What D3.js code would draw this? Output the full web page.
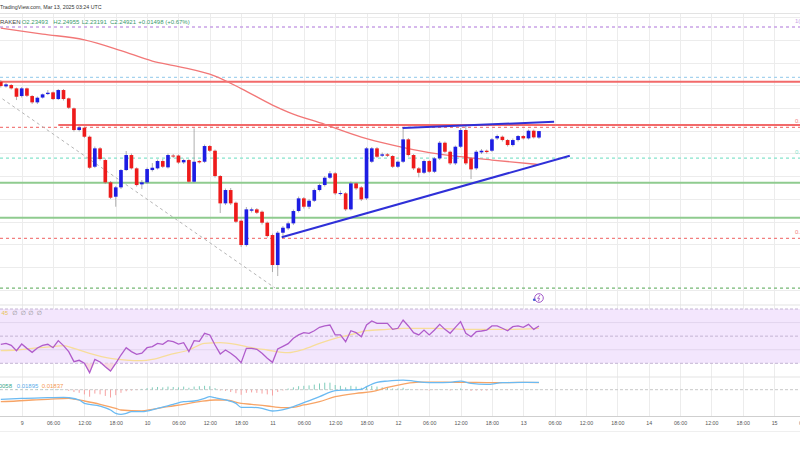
<!DOCTYPE html>
<html>
<head>
<meta charset="utf-8">
<script src="https://cdn.jsdelivr.net/npm/d3@7"></script>
<style>
  html, body { margin: 0; padding: 0; background: #fff; }
  svg { display: block; font-family: "Liberation Sans", Arial, sans-serif; }
</style>
</head>
<body>
<div id="chart"></div>
<script>
// XRP/USD 1h, Kraken. hour 0 = 9 Mar 2025 00:00 UTC, first candle at hour -4
var firstHour = -4;
var opens = [2.3578,2.3476,2.3505,2.3432,2.3263,2.3432,2.3263,2.3124,2.3230,2.3307,2.3344,2.3197,2.3395,2.3212,
  2.2992,2.2515,2.2566,2.2368,2.1708,2.2112,2.1855,2.1364,2.1048,2.1254,2.1635,2.1965,2.1672,2.1320,2.1364,2.1635,
  2.1672,2.1833,2.1694,2.1954,2.1954,2.1804,2.1855,2.1378,2.1833,2.1818,2.2163,2.2060,2.1503,2.0902,2.1195,2.0916,
  2.0520,1.9985,2.0740,2.0770,2.0718,2.0476,2.0205,1.9545,2.0256,2.0352,2.0462,2.0733,2.1012,2.0828,2.0960,2.1195,
  2.1305,2.1466,2.1562,2.1114,2.1122,2.0770,2.1342,2.1254,2.1012,2.1818,2.2112,2.1950,2.1980,2.1943,2.1708,2.1818,
  2.2310,2.1965,2.1672,2.1576,2.1833,2.1598,2.1892,2.2236,2.2038,2.1782,2.2148,2.2515,2.1892,2.1672,2.2024,2.2060,
  2.2060,2.2332,2.2368,2.2295,2.2185,2.2295,2.2383,2.2332,2.2500,2.23493];
var highs = [2.3615,2.3549,2.3527,2.3450,2.3461,2.3450,2.3285,2.3252,2.3318,2.3395,2.3362,2.3417,2.3417,2.3230,
  2.3010,2.2603,2.2592,2.2394,2.2152,2.2141,2.1888,2.1393,2.1283,2.1657,2.2053,2.1998,2.1695,2.1415,2.1690,2.1789,
  2.1866,2.1877,2.1998,2.1987,2.1976,2.1888,2.1877,2.2552,2.1855,2.2196,2.2185,2.2086,2.1525,2.1228,2.1239,2.0942,
  2.0546,2.0821,2.0810,2.0799,2.0744,2.0502,2.0238,2.0293,2.0403,2.0502,2.0766,2.1052,2.1041,2.0997,2.1228,2.1338,
  2.1503,2.1613,2.1591,2.1184,2.1151,2.1382,2.1371,2.1283,2.2141,2.2141,2.2141,2.2020,2.2009,2.1965,2.1844,2.2552,
  2.2339,2.1987,2.1701,2.1866,2.1855,2.1921,2.2273,2.2262,2.2064,2.2174,2.2559,2.2603,2.1921,2.2075,2.2097,2.2086,
  2.2339,2.2416,2.2394,2.2317,2.2328,2.2405,2.2405,2.2526,2.2526,2.24955];
var lows = [2.3450,2.3450,2.3406,2.3175,2.3230,2.3241,2.3087,2.3087,2.3208,2.3285,2.3175,2.3175,2.3164,2.2977,
  2.2482,2.2482,2.2339,2.1657,2.1679,2.1844,2.1327,2.0997,2.0828,2.1217,2.1613,2.1646,2.1272,2.1217,2.1327,2.1602,
  2.1646,2.1679,2.1668,2.1899,2.1767,2.1767,2.1349,2.1349,2.1778,2.1789,2.2031,2.1470,2.0689,2.0865,2.0865,2.0469,
  1.9941,1.9952,2.0700,2.0667,2.0436,2.0150,1.9391,1.9303,2.0183,2.0315,2.0425,2.0700,2.0788,2.0777,2.0931,2.1162,
  2.1272,2.1437,2.1085,2.1074,2.0733,2.0744,2.1195,2.0953,2.0975,2.1789,2.1899,2.1921,2.1921,2.1679,2.1679,2.1789,
  2.1932,2.1635,2.1474,2.1547,2.1569,2.1569,2.1855,2.2009,2.1745,2.1745,2.2119,2.1745,2.1437,2.1635,2.1987,2.1998,
  2.2031,2.2295,2.2262,2.2152,2.2152,2.2262,2.2306,2.2306,2.2328,2.23191];
var closes = [2.3483,2.3520,2.3432,2.3248,2.3432,2.3270,2.3124,2.3226,2.3300,2.3336,2.3197,2.3395,2.3197,2.3006,
  2.2515,2.2574,2.2368,2.1686,2.2112,2.1877,2.1364,2.1026,2.1254,2.1635,2.1965,2.1672,2.1305,2.1364,2.1657,2.1686,
  2.1833,2.1708,2.1965,2.1932,2.1800,2.1855,2.1378,2.1818,2.1804,2.2163,2.2060,2.1503,2.0902,2.1195,2.0902,2.0498,
  1.9985,2.0770,2.0770,2.0696,2.0476,2.0183,1.9545,2.0256,2.0366,2.0462,2.0733,2.1012,2.0828,2.0960,2.1195,2.1305,
  2.1466,2.1562,2.1122,2.1129,2.0770,2.1342,2.1232,2.0990,2.2112,2.2112,2.1928,2.1980,2.1950,2.1708,2.1818,2.2310,
  2.1965,2.1672,2.1576,2.1833,2.1598,2.1892,2.2236,2.2038,2.1782,2.2148,2.2515,2.1782,2.1650,2.2038,2.2060,2.2031,
  2.2310,2.2383,2.2295,2.2185,2.2295,2.2383,2.2332,2.2500,2.2354,2.24921];

// moving average on price (sampled)
var maHours = [-4,4,12,19,25,30,37,42,48,51,58,65,71,78,84,90,99];
var maVals = [2.4757,2.4627,2.4499,2.4264,2.4033,2.3912,2.3703,2.3428,2.3065,2.2911,2.2640,2.2361,2.2185,2.2020,2.1928,2.1855,2.1756];

// horizontal drawings
var resLevels = [2.3578, 2.2625];
var resFrom = [-6, 7];
var supLevels = [2.1356, 2.0586];
var fibLabels = ["1(2.4781)", "0.786(2.3674)", "0.618(2.2574)", "0.5(2.1899)", "0.236(2.0132)", "0(1.9039)"];
var fibLevels = [2.4781, 2.3674, 2.2574, 2.1899, 2.0132, 1.9039];
var fibColors = ["#c9a3e6", "#a6d3ee", "#f27f7f", "#86e3cb", "#f27f7f", "#74b874"];
var fibShowLabel = [true, false, true, true, true, false];
var fibDiag = [[-23.5, 2.4781], [48.5, 1.9039]];
var lowerTrend = [[49.76, 2.0155], [104.9, 2.1950]];
var upperTrend = [[72.9, 2.2559], [101.9, 2.2698]];

// RSI per candle
var rsi = [44.0,44.7,43.2,39.3,44.2,41.0,38.1,41.3,43.2,44.0,41.5,46.7,43.0,38.6,
  31.2,32.2,30.0,23.1,32.9,31.0,27.5,24.3,30.0,36.1,41.5,38.6,36.6,37.4,41.5,42.3,
  44.7,44.0,46.7,45.9,44.2,45.2,38.6,46.7,46.2,52.1,50.9,43.5,36.9,39.8,37.4,34.4,
  30.5,41.0,41.0,40.3,37.4,33.7,30.7,40.5,42.5,44.5,48.4,50.9,52.6,52.1,54.0,56.5,
  57.5,58.2,50.9,50.9,45.9,54.0,52.6,49.6,58.2,61.2,59.4,59.4,59.4,55.0,55.8,61.9,
  57.5,52.6,50.9,54.5,50.9,54.5,58.7,55.0,52.1,56.5,60.7,52.1,49.6,53.3,53.8,54.5,
  57.5,57.5,55.8,54.0,57.0,57.5,56.5,58.7,55.0,57.5];
var rsiMaHours = [-4,-1,2,6,8,10,13,17,20,23,25,28,32,35,38,41,44,47,51,54,57,60,64,66,70,73,79,86,92,99];
var rsiMaVals = [39.3,39.8,41.0,42.3,43.0,41.0,37.4,33.7,32.4,32.0,32.9,36.1,39.8,44.7,45.2,44.0,41.5,39.8,37.8,40.3,44.7,48.4,52.1,54.0,55.0,55.8,55.8,55.0,55.0,55.8];

// MACD
var macdHours = [-4,0,5,8,9,11,12,15,17,18,19,20,21,23,26,29,31,33,35,36,37,39,41,42,44,46,48,49,51,54,57,60,62,65,66,68,70,73,75,77,79,82,84,86,89,92,96,99];
var macdVals = [-0.0247,-0.0222,-0.0205,-0.0196,-0.0205,-0.0264,-0.0350,-0.0418,-0.0520,-0.0606,-0.0631,-0.0606,-0.0563,-0.0563,-0.0478,-0.0375,-0.0307,-0.0290,-0.0222,-0.0179,-0.0205,-0.0264,-0.0350,-0.0452,-0.0452,-0.0478,-0.0546,-0.0537,-0.0478,-0.0333,-0.0179,-0.0026,-0.0009,0.0009,0.0077,0.0188,0.0222,0.0247,0.0222,0.0188,0.0179,0.0188,0.0222,0.0162,0.0136,0.0179,0.0188,0.01895];
var sigHours = [-4,-1,2,5,9,10,12,15,18,19,23,25,28,31,34,37,39,42,44,47,50,52,54,57,60,64,67,70,73,76,79,83,87,91,95,99];
var sigVals = [-0.0307,-0.0290,-0.0264,-0.0247,-0.0222,-0.0239,-0.0290,-0.0375,-0.0478,-0.0520,-0.0546,-0.0503,-0.0435,-0.0375,-0.0307,-0.0264,-0.0264,-0.0350,-0.0375,-0.0418,-0.0461,-0.0452,-0.0392,-0.0307,-0.0179,-0.0094,-0.0051,0.0060,0.0145,0.0196,0.0196,0.0188,0.0188,0.0179,0.0188,0.01837];
var hist = [0.001,0.001,0.001,0.0015,0.001,0.001,0.001,0.0015,0.001,0.001,0.001,0.0015,0.0005,
  -0.003,-0.006,-0.008,-0.012,-0.018,-0.010,-0.012,-0.016,-0.020,-0.014,-0.008,-0.004,-0.002,-0.001,
  0.002,0.004,0.006,0.007,0.006,0.008,0.007,0.006,0.008,0.005,0.008,0.009,0.010,0.009,0.004,-0.002,
  -0.003,-0.006,-0.009,-0.013,-0.008,-0.007,-0.008,-0.010,-0.012,-0.015,-0.006,-0.002,
  0.003,0.006,0.009,0.010,0.011,0.013,0.016,0.018,0.018,0.012,0.010,0.006,0.010,0.008,0.005,0.009,0.010,0.008,0.006,0.005,0.003,0.003,0.005,0.002,
  0.000,-0.001,-0.001,-0.002,-0.001,0.001,0.000,-0.002,0.001,0.003,-0.001,-0.003,-0.002,-0.002,-0.002,0.000,0.001,0.000,-0.001,0.000,0.000,0.000,0.001,0.000,0.0006];

var base = Date.UTC(2025, 2, 9, 0);
function hr(h) { return new Date(base + h * 3600000); }

var W = 800, H = 450;
var svg = d3.select('#chart').append('svg')
    .attr('width', W)
    .attr('height', H);

var x = d3.scaleUtc().domain([hr(-4.153), hr(148.96)]).range([0, W]);
var y = d3.scaleLinear().domain([1.9, 2.5]).range([289.8, 17.1]);
var yR = d3.scaleLinear().domain([30, 70]).range([363.3, 309]);
var yM = d3.scaleLinear().domain([-0.06, 0.02]).range([413.1, 381.9]);

var defs = svg.append('defs');
defs.append('clipPath').attr('id', 'clipMain').append('rect')
    .attr('x', 0).attr('y', 13.5).attr('width', W).attr('height', 290.5);
defs.append('clipPath').attr('id', 'clipRsi').append('rect')
    .attr('x', 0).attr('y', 305.5).attr('width', W).attr('height', 71);
defs.append('clipPath').attr('id', 'clipMacd').append('rect')
    .attr('x', 0).attr('y', 377.5).attr('width', W).attr('height', 39);

var candles = opens.map(function(o, i) {
    return { t: hr(firstHour + i), o: o, h: highs[i], l: lows[i], c: closes[i] };
});

//grid
var ticks6h = d3.utcHour.every(6).range(hr(-12), hr(156));
svg.append('g').selectAll('line').data(ticks6h).enter().append('line')
    .attr('x1', function(d) { return Math.round(x(d)) + 0.5; })
    .attr('x2', function(d) { return Math.round(x(d)) + 0.5; })
    .attr('y1', 13.5).attr('y2', 416)
    .style('stroke', '#ececec');

svg.append('g').selectAll('line').data(y.ticks(12)).enter().append('line')
    .attr('x1', 0).attr('x2', W)
    .attr('y1', function(d) { return Math.round(y(d)) + 0.5; })
    .attr('y2', function(d) { return Math.round(y(d)) + 0.5; })
    .style('stroke', '#ececec');

// pane borders
[13.5, 305, 377].forEach(function(v) {
    svg.append('line').attr('x1', 0).attr('x2', W).attr('y1', v).attr('y2', v)
        .style('stroke', '#e3e3e3');
});
svg.append('line').attr('x1', 0).attr('x2', W).attr('y1', 416.5).attr('y2', 416.5)
    .style('stroke', '#cfcfcf');
svg.append('line').attr('x1', 0).attr('x2', W).attr('y1', 431.5).attr('y2', 431.5)
    .style('stroke', '#efefef');

var main = svg.append('g').attr('clip-path', 'url(#clipMain)');

// fibonacci levels
fibLevels.forEach(function(p, i) {
    main.append('line')
        .attr('x1', 0).attr('x2', W)
        .attr('y1', y(p)).attr('y2', y(p))
        .style('stroke', fibColors[i])
        .style('stroke-width', i === 0 ? 1.5 : 1.2)
        .style('stroke-dasharray', '3,3');
    if (fibShowLabel[i]) {
        main.append('text')
            .attr('x', 795).attr('y', y(p) - 4)
            .style('font-size', '6px')
            .style('fill', fibColors[i])
            .text(fibLabels[i]);
    }
});
main.append('line')
    .attr('x1', x(hr(fibDiag[0][0]))).attr('y1', y(fibDiag[0][1]))
    .attr('x2', x(hr(fibDiag[1][0]))).attr('y2', y(fibDiag[1][1]))
    .style('stroke', '#b5b5b5')
    .style('stroke-width', 1)
    .style('stroke-dasharray', '3,3');

// resistance and support
resLevels.forEach(function(p, i) {
    main.append('line')
        .attr('x1', x(hr(resFrom[i]))).attr('x2', W)
        .attr('y1', y(p)).attr('y2', y(p))
        .style('stroke', '#f26a6a')
        .style('stroke-width', 2);
});
supLevels.forEach(function(p) {
    main.append('line')
        .attr('x1', 0).attr('x2', W)
        .attr('y1', y(p)).attr('y2', y(p))
        .style('stroke', '#8fcb8f')
        .style('stroke-width', 2);
});

// price MA
var maPts = maHours.map(function(h, i) { return [hr(h), maVals[i]]; });
main.append('path')
    .datum(maPts)
    .attr('d', d3.line().curve(d3.curveMonotoneX)
        .x(function(d) { return x(d[0]); })
        .y(function(d) { return y(d[1]); }))
    .style('fill', 'none')
    .style('stroke', '#f27777')
    .style('stroke-width', 1.3);

// candles
var bodyW = (x(hr(1)) - x(hr(0))) * 0.7;
var cg = main.append('g');
cg.selectAll('line.wick').data(candles).enter().append('line')
    .attr('class', 'wick')
    .attr('x1', function(d) { return x(d.t); })
    .attr('x2', function(d) { return x(d.t); })
    .attr('y1', function(d) { return y(d.h); })
    .attr('y2', function(d) { return y(d.l); })
    .style('stroke', '#9a9a9a')
    .style('stroke-width', 0.8);
cg.selectAll('rect').data(candles).enter().append('rect')
    .attr('x', function(d) { return x(d.t) - bodyW / 2; })
    .attr('width', bodyW)
    .attr('y', function(d) { return y(Math.max(d.o, d.c)); })
    .attr('height', function(d) { return Math.max(1, Math.abs(y(d.o) - y(d.c))); })
    .style('fill', function(d) { return d.c >= d.o ? '#1d1de3' : '#ee1b1b'; });

// trend lines
[lowerTrend, upperTrend].forEach(function(tl) {
    main.append('line')
        .attr('x1', x(hr(tl[0][0]))).attr('y1', y(tl[0][1]))
        .attr('x2', x(hr(tl[1][0]))).attr('y2', y(tl[1][1]))
        .style('stroke', '#2f30d8')
        .style('stroke-width', 2);
});

// header
svg.append('text')
    .attr('x', 0).attr('y', 9)
    .style('font-size', '5.3px')
    .style('fill', '#333')
    .text('TradingView.com, Mar 13, 2025 03:24 UTC');
var legendX = [-4, 21.7, 53.3, 81.7, 110, 138.3];
var legendT = ['KRAKEN', 'O2.23493', 'H2.24955', 'L2.23191', 'C2.24921', '+0.01498 (+0.67%)'];
legendT.forEach(function(t, i) {
    svg.append('text')
        .attr('x', legendX[i]).attr('y', 24.3)
        .style('font-size', '6px')
        .style('fill', i === 0 ? '#444' : '#3a9a6c')
        .text(t);
});

// RSI pane
var rsiG = svg.append('g').attr('clip-path', 'url(#clipRsi)');
rsiG.append('rect')
    .attr('x', 0).attr('width', W)
    .attr('y', yR(70)).attr('height', yR(30) - yR(70))
    .style('fill', '#f3e6fd');
[60, 40].forEach(function(v) {
    rsiG.append('line').attr('x1', 0).attr('x2', W)
        .attr('y1', yR(v)).attr('y2', yR(v))
        .style('stroke', '#e2d5ee');
});
[70, 50, 30].forEach(function(v) {
    rsiG.append('line').attr('x1', 0).attr('x2', W)
        .attr('y1', yR(v)).attr('y2', yR(v))
        .style('stroke', '#c4b4d4')
        .style('stroke-dasharray', '3,2');
});
var rsiPts = rsi.map(function(v, i) { return [hr(firstHour + i), v]; });
rsiG.append('path')
    .datum(rsiPts)
    .attr('d', d3.area()
        .x(function(d) { return x(d[0]); })
        .y0(yR(30))
        .y1(function(d) { return yR(Math.min(d[1], 30)); }))
    .style('fill', '#f9d3da')
    .style('opacity', 0.8);
var rsiMaPts = rsiMaHours.map(function(h, i) { return [hr(h), rsiMaVals[i]]; });
rsiG.append('path')
    .datum(rsiMaPts)
    .attr('d', d3.line().curve(d3.curveMonotoneX)
        .x(function(d) { return x(d[0]); })
        .y(function(d) { return yR(d[1]); }))
    .style('fill', 'none')
    .style('stroke', '#f7dd9a')
    .style('stroke-width', 1.3);
rsiG.append('path')
    .datum(rsiPts)
    .attr('d', d3.line()
        .x(function(d) { return x(d[0]); })
        .y(function(d) { return yR(d[1]); }))
    .style('fill', 'none')
    .style('stroke', '#b05ccb')
    .style('stroke-width', 1.3);
svg.append('text').attr('x', 1.5).attr('y', 315.2)
    .style('font-size', '6px').style('fill', '#e8c35a').text('45');
[12.3, 20.7, 28.3, 36.7].forEach(function(v) {
    svg.append('text').attr('x', v).attr('y', 315.2)
        .style('font-family', 'DejaVu Sans')
        .style('font-size', '6px').style('fill', '#888').text('\u2205');
});

// realtime icon
svg.append('circle').attr('cx', 539).attr('cy', 298).attr('r', 4.3)
    .style('fill', '#fff').style('stroke', '#a259c8').style('stroke-width', 1);
svg.append('path').attr('d', 'M540,295 L537.6,298.4 L539.6,298.4 L538.4,301')
    .style('fill', 'none').style('stroke', '#a259c8').style('stroke-width', 0.9);
svg.append('circle').attr('cx', 534.2).attr('cy', 299.8).attr('r', 1.3)
    .style('fill', '#3f5bd6');

// MACD pane
var macdG = svg.append('g').attr('clip-path', 'url(#clipMacd)');
macdG.append('line').attr('x1', 0).attr('x2', W)
    .attr('y1', yM(0)).attr('y2', yM(0))
    .style('stroke', '#c8c8c8')
    .style('stroke-dasharray', '3,2');
macdG.selectAll('line.bar').data(hist).enter().append('line')
    .attr('class', 'bar')
    .attr('x1', function(d, i) { return x(hr(firstHour + i)); })
    .attr('x2', function(d, i) { return x(hr(firstHour + i)); })
    .attr('y1', yM(0))
    .attr('y2', function(d) { return yM(d); })
    .style('stroke', function(d) { return d >= 0 ? '#7fcdbb' : '#f6a2a2'; })
    .style('stroke-width', 1);
var sigPts = sigHours.map(function(h, i) { return [hr(h), sigVals[i]]; });
var macdPts = macdHours.map(function(h, i) { return [hr(h), macdVals[i]]; });
var mline = d3.line().curve(d3.curveMonotoneX)
    .x(function(d) { return x(d[0]); })
    .y(function(d) { return yM(d[1]); });
macdG.append('path').datum(sigPts).attr('d', mline)
    .style('fill', 'none').style('stroke', '#f7a466').style('stroke-width', 1.3);
macdG.append('path').datum(macdPts).attr('d', mline)
    .style('fill', 'none').style('stroke', '#6bbaf2').style('stroke-width', 1.3);
var macdLegX = [-2, 16.7, 41.7];
var macdLegT = ['0.00058', '0.01895', '0.01837'];
var macdLegC = ['#3aa88e', '#5aaeea', '#f59a55'];
macdLegT.forEach(function(t, i) {
    svg.append('text').attr('x', macdLegX[i]).attr('y', 388)
        .attr('text-anchor', i === 0 ? 'end' : 'start')
        .attr('dx', i === 0 ? 14 : 0)
        .style('font-size', '6px').style('fill', macdLegC[i]).text(t);
});

// time axis
var fmt = function(d) {
    return d.getUTCHours() === 0 ? d3.utcFormat('%-d')(d) : d3.utcFormat('%H:%M')(d);
};
var axis = svg.append('g')
    .attr('transform', 'translate(0,421.5)')
    .call(d3.axisBottom(x).tickValues(ticks6h).tickFormat(fmt).tickSize(0).tickPadding(0));
axis.select('.domain').remove();
axis.selectAll('text')
    .style('font-family', '"Liberation Sans", Arial, sans-serif')
    .style('font-size', '5.3px')
    .style('fill', '#555');
</script>
</body>
</html>
